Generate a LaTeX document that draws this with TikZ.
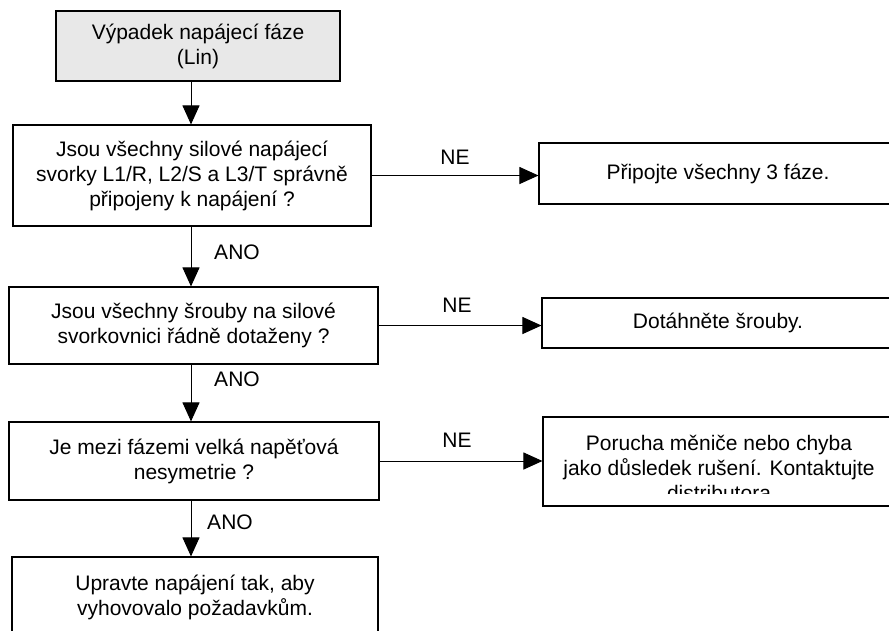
\documentclass[tikz,border=0pt]{standalone}
\usepackage{fontspec}
\setmainfont{Liberation Sans}
\usetikzlibrary{arrows.meta}
\definecolor{startfill}{RGB}{232,232,232}
\begin{document}
\begin{tikzpicture}[x=1pt,y=-1pt,
  txt/.style={font=\fontsize{21}{25}\selectfont},
  box/.style={txt, draw=black, line width=1.1pt, align=center, inner sep=0pt},
  flow/.style={line width=1pt, -{Triangle[length=19pt,width=17pt]}},
  lbl/.style={txt, inner sep=0pt}]
\useasboundingbox (0,0) rectangle (889,630);
\clip (0,0) rectangle (889,630);

% main column of steps
\node[box, fill=startfill, minimum width=284pt, minimum height=70pt] (start) at (198,46)
  {Výpadek napájecí fáze\\(Lin)};
\node[box, minimum width=358pt, minimum height=101pt] (q1) at (192,175.5)
  {Jsou všechny silové napájecí\\svorky L1/R, L2/S a L3/T správně\\připojeny k napájení ?};
\node[box, minimum width=369pt, minimum height=77pt] (q2) at (193.5,325.5)
  {Jsou všechny šrouby na silové\\svorkovnici řádně dotaženy ?};
\node[box, minimum width=370pt, minimum height=78pt] (q3) at (194,461)
  {Je mezi fázemi velká napěťová\\nesymetrie ?};
\node[box, minimum width=366pt, minimum height=80pt] (fix) at (195,597)
  {Upravte napájení tak, aby\\vyhovovalo požadavkům.};

% remedies on the right
\node[box, minimum width=358pt, minimum height=61pt] (r1) at (718,173.5)
  {Připojte všechny 3 fáze.};
\node[box, minimum width=352pt, minimum height=50pt] (r2) at (718,323)
  {Dotáhněte šrouby.};
\node[box, minimum width=352pt, minimum height=89pt] (r3) at (719,461.5) {};
\begin{scope}
  \clip (r3.north west) rectangle (r3.east |- 0,493);
  \node[txt, align=center, inner sep=0pt] (r3text) at (719,468)
    {Porucha měniče nebo chyba\\jako důsledek rušení. Kontaktujte\\distributora};
\end{scope}

% connectors
\coordinate (spine) at (191,0);
\draw[flow] (start.south -| spine) -- (q1.north -| spine);
\draw[flow] (q1.south -| spine) -- (q2.north -| spine);
\draw[flow] (q2.south -| spine) -- (q3.north -| spine);
\draw[flow] (q3.south -| spine) -- (fix.north -| spine);
\draw[flow] (q1.east) -- (q1.east -| r1.west);
\draw[flow] (q2.east) -- (q2.east -| r2.west);
\draw[flow] (q3.east) -- (q3.east -| r3.west);

% branch labels
\node[lbl] (ano1) at (237,252) {ANO};
\node[lbl] (ano2) at (237,379) {ANO};
\node[lbl] (ano3) at (230,522) {ANO};
\node[lbl] (ne1) at (455,157) {NE};
\node[lbl] (ne2) at (457,305) {NE};
\node[lbl] (ne3) at (457,440) {NE};
\end{tikzpicture}
\end{document}
